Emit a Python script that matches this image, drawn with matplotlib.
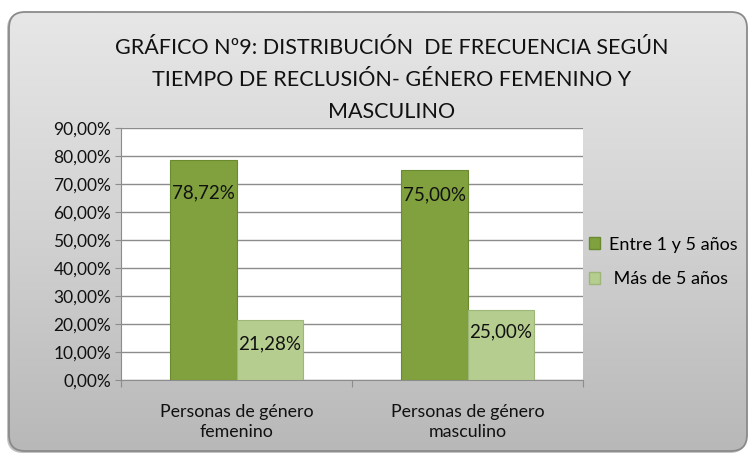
import matplotlib
matplotlib.use("Agg")
import matplotlib.pyplot as plt
import numpy as np
from matplotlib.patches import FancyBboxPatch, Patch
from matplotlib.ticker import FuncFormatter, FixedLocator
from matplotlib.colors import LinearSegmentedColormap

plt.rcParams['font.family'] = ['Lato', 'DejaVu Sans']

categories = ["Personas de género\nfemenino", "Personas de género\nmasculino"]
series_names = ["Entre 1 y 5 años", " Más de 5 años"]
entre_1_5 = [78.72, 75.00]
mas_5 = [21.28, 25.00]
yticks = [0, 10, 20, 30, 40, 50, 60, 70, 80, 90]
title = "GRÁFICO Nº9: DISTRIBUCIÓN  DE FRECUENCIA SEGÚN\nTIEMPO DE RECLUSIÓN- GÉNERO FEMENINO Y\nMASCULINO"

W, H = 754, 455
fig = plt.figure(figsize=(W/100, H/100), dpi=100)
fig.patch.set_facecolor('white')

# rounded gradient panel with a soft shadow
bg_ax = fig.add_axes([0, 0, 1, 1], zorder=-10)
bg_ax.set_xlim(0, W); bg_ax.set_ylim(0, H); bg_ax.axis('off')
shadow = FancyBboxPatch((7, 2), W - 15, H - 15, boxstyle="round,pad=0,rounding_size=16",
                        facecolor='#9a9a9a', edgecolor='none', alpha=0.6)
bg_ax.add_patch(shadow)
panel = FancyBboxPatch((9, 4), W - 16, H - 16, boxstyle="round,pad=0,rounding_size=16",
                       facecolor='none', edgecolor='#8a8a8a', linewidth=1.3)
bg_ax.add_patch(panel)
grad = np.linspace(0, 1, 256).reshape(-1, 1)
cmap = LinearSegmentedColormap.from_list('g', ['#b8b8b8', '#d2d2d2', '#e7e7e7'])
im = bg_ax.imshow(grad, extent=(9, W - 7, 4, H - 12), origin='lower', cmap=cmap, aspect='auto', zorder=1)
im.set_clip_path(panel)
panel.set_zorder(2)

ax = fig.add_axes([121/W, 1 - 380/H, (583 - 121)/W, (380 - 128)/H])
ax.set_facecolor('white')
x = np.arange(len(categories))
bw = 0.29
c1 = '#80a13d'
c2 = '#b5cd8e'
b1 = ax.bar(x - bw/2, entre_1_5, bw, color=c1, edgecolor='#6a8a30', linewidth=0.8, zorder=3)
b2 = ax.bar(x + bw/2, mas_5, bw, color=c2, edgecolor='#9cb778', linewidth=0.8, zorder=3)

ax.set_xlim(-0.5, 1.5)
ax.set_ylim(0, 90)
ax.yaxis.set_major_locator(FixedLocator(yticks))
ax.yaxis.set_major_formatter(FuncFormatter(lambda v, p: f"{v:.2f}%".replace('.', ',')))
ax.grid(axis='y', color='#8c8c8c', linewidth=1.0, zorder=0)
for s in ['top', 'right']:
    ax.spines[s].set_visible(False)
ax.spines['left'].set_color('#8c8c8c')
ax.spines['bottom'].set_color('#8c8c8c')
ax.tick_params(axis='y', length=4, color='#8c8c8c', labelsize=12.5, pad=3, labelcolor='#111111')
ax.set_xticks([-0.5, 0.5, 1.5])
ax.set_xticklabels([])
ax.tick_params(axis='x', length=5, color='#8c8c8c')
for xi, lab in zip(x, categories):
    ax.text(xi, -0.095, lab, transform=ax.get_xaxis_transform(), ha='center', va='top',
            fontsize=12.8, color='#111111', linespacing=1.3)

# data labels
offs1 = [-33, -25]
offs2 = [-23, -22]
for rect, v, o in zip(b1, entre_1_5, offs1):
    ax.annotate(f"{v:.2f}%".replace('.', ','), (rect.get_x() + rect.get_width()/2, v),
                xytext=(0, o), textcoords='offset pixels', ha='center', va='center',
                fontsize=13.5, color='#111111', zorder=5)
for rect, v, o in zip(b2, mas_5, offs2):
    ax.annotate(f"{v:.2f}%".replace('.', ','), (rect.get_x() + rect.get_width()/2, v),
                xytext=(0, o), textcoords='offset pixels', ha='center', va='center',
                fontsize=13.5, color='#111111', zorder=5)

handles = [Patch(facecolor=c1, edgecolor='#6a8a30'), Patch(facecolor=c2, edgecolor='#9cb778')]
fig.legend(handles, series_names, loc='center left', bbox_to_anchor=(573/W, 1 - 262/H),
           frameon=False, fontsize=13, handlelength=0.6, handleheight=0.6,
           handletextpad=0.5, labelspacing=1.05)

fig.text(392/W, 1 - 80/H, title, ha='center', va='center', fontsize=15.5,
         color='#111111', linespacing=1.75)

fig.savefig('out.png', dpi=100, facecolor='white')
